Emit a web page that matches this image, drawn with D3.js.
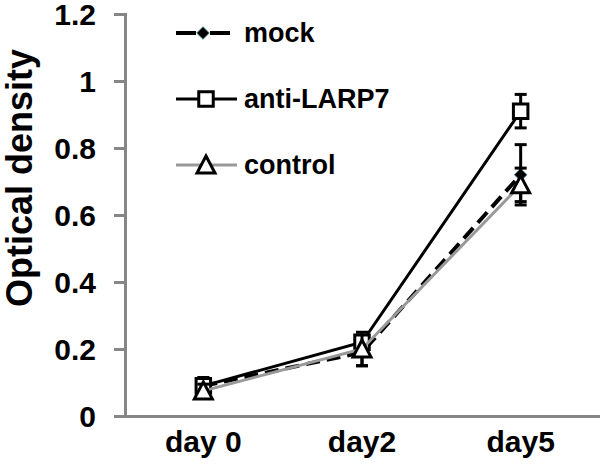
<!DOCTYPE html>
<html>
<head>
<meta charset="utf-8">
<script src="https://cdn.jsdelivr.net/npm/d3@7"></script>
<style>
  body { margin: 0; background: #fff; }
  text { font-family: Arial, "Liberation Sans", sans-serif; font-weight: bold; fill: #000; }
</style>
</head>
<body>
<svg width="600" height="474"></svg>
<script>
const days = ['day 0', 'day2', 'day5'];
const yTicks = [0, 0.2, 0.4, 0.6, 0.8, 1, 1.2];

const mock = [0.09, 0.19, 0.72];
const mockErr = [0.02, 0.04, 0.09];
const anti = [0.09, 0.22, 0.91];
const antiErr = [0.025, 0.02, 0.05];
const control = [0.075, 0.2, 0.69];
const controlErr = [0.02, 0.05, 0.05];

const seriesNames = ['mock', 'anti-LARP7', 'control'];

const series = [
  { name: seriesNames[0], values: mock, err: mockErr, stroke: '#000', width: 4, dash: '14,7', marker: 'diamond' },
  { name: seriesNames[1], values: anti, err: antiErr, stroke: '#000', width: 3, dash: null, marker: 'square' },
  { name: seriesNames[2], values: control, err: controlErr, stroke: '#999', width: 3, dash: null, marker: 'triangle' },
];

const svg = d3.select('svg');
const axisColor = '#868686';

const x = d3.scaleBand()
  .domain(days)
  .range([124, 600]);

const y = d3.scaleLinear()
  .domain([0, 1.2])
  .range([416, 14]);

const cx = (d, i) => x(days[i]) + x.bandwidth() / 2;

// y axis
const yAxis = svg.append('g')
  .attr('transform', 'translate(125,0)')
  .call(d3.axisLeft(y).tickValues(yTicks).tickSize(11).tickPadding(18)
    .tickFormat(d => d3.format('')(d)));
yAxis.select('.domain').attr('stroke', axisColor).attr('stroke-width', 3);
yAxis.selectAll('.tick line').attr('stroke', axisColor).attr('stroke-width', 3);
yAxis.selectAll('.tick text')
  .style('font-size', '30px')
  .attr('dy', '0.36em')
  .attr('fill', '#000');

// x axis
const xAxis = svg.append('g')
  .attr('transform', 'translate(0,416)')
  .call(d3.axisBottom(x).tickSize(0).tickPadding(30));
xAxis.select('.domain').attr('stroke', axisColor).attr('stroke-width', 3);
xAxis.selectAll('.tick text')
  .style('font-size', '30px')
  .attr('dy', '0.2em')
  .attr('fill', '#000');

// y title
svg.append('text')
  .attr('transform', 'translate(32,178) rotate(-90)')
  .attr('text-anchor', 'middle')
  .style('font-size', '36px')
  .text('Optical density');

function drawMarker(g, type, px, py) {
  if (type === 'diamond') {
    g.append('path')
      .attr('d', d3.symbol(d3.symbolSquare, 80)())
      .attr('transform', `translate(${px},${py}) rotate(45)`)
      .attr('fill', '#000')
      .attr('stroke', '#4a8a96')
      .attr('stroke-width', 0.8);
  } else if (type === 'square') {
    g.append('path')
      .attr('d', d3.symbol(d3.symbolSquare, 210)())
      .attr('transform', `translate(${px},${py})`)
      .attr('fill', '#fff')
      .attr('stroke', '#000')
      .attr('stroke-width', 3);
  } else {
    const p = d3.path();
    p.moveTo(0, -9); p.lineTo(9, 8); p.lineTo(-9, 8); p.closePath();
    g.append('path')
      .attr('d', p.toString())
      .attr('transform', `translate(${px},${py})`)
      .attr('fill', '#fff')
      .attr('stroke', '#000')
      .attr('stroke-width', 3)
      .attr('stroke-linejoin', 'miter');
  }
}

const line = d3.line()
  .x((d, i) => cx(d, i))
  .y(d => y(d));

series.forEach(s => {
  const g = svg.append('g');
  // error bars
  s.values.forEach((v, i) => {
    const px = cx(v, i);
    g.append('line')
      .attr('x1', px).attr('x2', px)
      .attr('y1', y(v - s.err[i])).attr('y2', y(v + s.err[i]))
      .attr('stroke', '#000').attr('stroke-width', 3);
    [v - s.err[i], v + s.err[i]].forEach(e => {
      g.append('line')
        .attr('x1', px - 6).attr('x2', px + 6)
        .attr('y1', y(e)).attr('y2', y(e))
        .attr('stroke', '#000').attr('stroke-width', 3);
    });
  });
  g.append('path')
    .datum(s.values)
    .attr('d', line)
    .attr('fill', 'none')
    .attr('stroke', s.stroke)
    .attr('stroke-width', s.width)
    .attr('stroke-dasharray', s.dash);
  s.values.forEach((v, i) => drawMarker(g, s.marker, cx(v, i), y(v)));
});

// legend
const legend = svg.append('g');
series.forEach((s, i) => {
  const ly = 33 + i * 66;
  legend.append('line')
    .attr('x1', 176).attr('x2', s.marker === 'diamond' ? 230 : 237)
    .attr('y1', ly).attr('y2', ly)
    .attr('stroke', s.stroke)
    .attr('stroke-width', s.width)
    .attr('stroke-dasharray', s.dash ? '20,14' : null);
  drawMarker(legend, s.marker, s.marker === 'diamond' ? 203 : 206, ly);
  legend.append('text')
    .attr('x', 244)
    .attr('y', ly + 9)
    .style('font-size', '27px')
    .text(s.name);
});
</script>
</body>
</html>
